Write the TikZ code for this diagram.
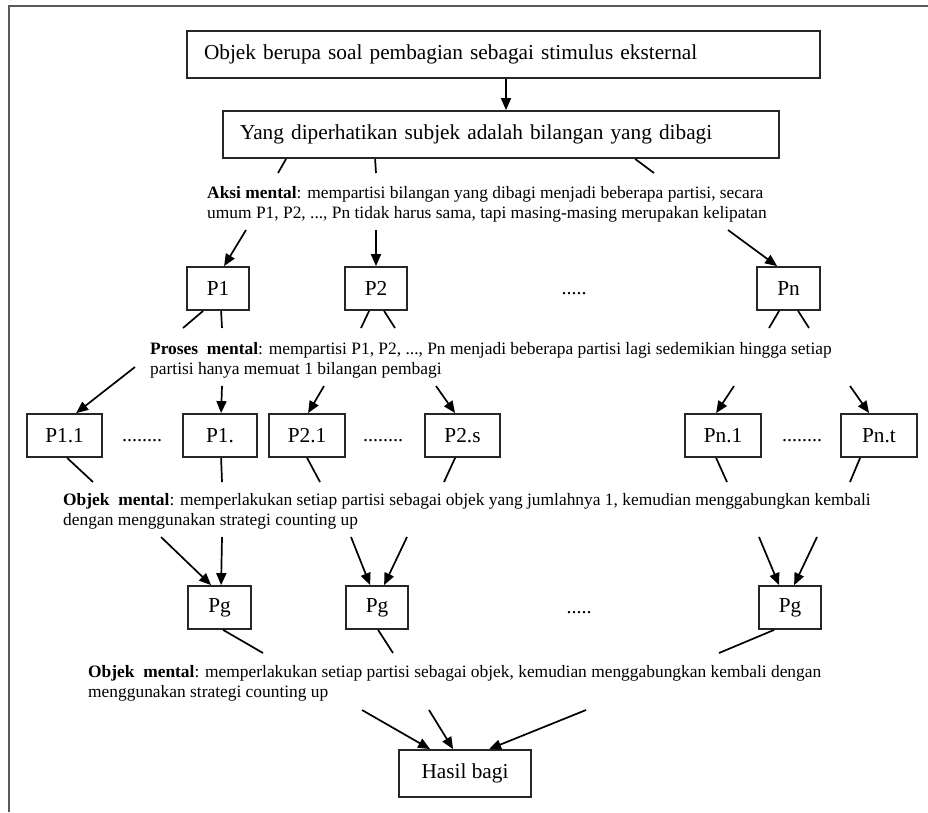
\documentclass[tikz,border=0pt]{standalone}
\usepackage{fontspec}
\setmainfont{Liberation Serif}
\usetikzlibrary{arrows.meta}
\begin{document}
\begin{tikzpicture}[x=1pt,y=-1pt,
  box/.style={draw=black!85, line width=1.8pt, inner sep=0pt, font=\fontsize{21.3}{24}\selectfont},
  bigbox/.style={box, minimum height=47pt, inner xsep=17pt, align=left},
  pbox/.style={box, minimum height=43pt},
  conn/.style={line width=1.7pt},
  arr/.style={conn, -{Triangle[length=12pt,width=10pt]}},
  note/.style={anchor=north west, align=left, inner sep=0pt, font=\fontsize{17.4}{20.5}\selectfont},
  dotsnode/.style={inner sep=0pt, font=\fontsize{20}{22}\selectfont}
]
\useasboundingbox (0,0) rectangle (928,812);
\draw[line width=2.5pt, black!65] (928,6) -- (9,6) -- (9,812);

% top boxes
\node[bigbox, text width=599pt] (b1) at (503.5,54.5) {Objek berupa soal pembagian sebagai stimulus eksternal};
\node[bigbox, text width=522pt] (b2) at (501,134.5) {Yang diperhatikan subjek adalah bilangan yang dibagi};
\draw[arr] ([xshift=2.5pt]b1.south) -- ([xshift=2.5pt]b1.south |- b2.north);

% Aksi mental
\node[note] (t1) at (207,186) {\textbf{Aksi mental}: mempartisi bilangan yang dibagi menjadi beberapa partisi, secara\\umum P1, P2, ..., Pn tidak harus sama, tapi masing-masing merupakan kelipatan};
\coordinate (a1) at (278,173);
\coordinate (a2) at (376,173);
\coordinate (a3) at (654,173);
\draw[conn] ([xshift=64pt]b2.south west) -- (a1);
\draw[conn] ([xshift=153pt]b2.south west) -- (a2);
\draw[conn] ([xshift=413pt]b2.south west) -- (a3);

% level 1
\node[pbox, minimum width=62pt] (p1) at (218,288.5) {P1};
\node[pbox, minimum width=62pt] (p2) at (376,288.5) {P2};
\node[pbox, minimum width=63pt] (pn) at (788.5,288.5) {Pn};
\node[dotsnode] (d1) at (574,294) {.....};
\coordinate (s1) at (246,230);
\coordinate (s2) at (376,230);
\coordinate (s3) at (728,230);
\draw[arr] (s1) -- ([xshift=38pt]p1.north west);
\draw[arr] (s2) -- (p2.north);
\draw[arr] (s3) -- ([xshift=21pt]pn.north west);

% below level 1
\coordinate (e1) at (183,328);
\coordinate (e2) at (222,328);
\coordinate (e3) at (361,328);
\coordinate (e4) at (395,328);
\coordinate (e5) at (769,328);
\coordinate (e6) at (809,328);
\draw[conn] ([xshift=17pt]p1.south west) -- (e1);
\draw[conn] ([xshift=35pt]p1.south west) -- (e2);
\draw[conn] ([xshift=25pt]p2.south west) -- (e3);
\draw[conn] ([xshift=40pt]p2.south west) -- (e4);
\draw[conn] ([xshift=23pt]pn.south west) -- (e5);
\draw[conn] ([xshift=42pt]pn.south west) -- (e6);

% Proses mental
\node[note] (t2) at (150,342) {\textbf{Proses\ \ mental}: mempartisi P1, P2, ..., Pn menjadi beberapa partisi lagi sedemikian hingga setiap\\partisi hanya memuat 1 bilangan pembagi};

% level 2
\node[pbox, minimum width=75pt] (q11) at (64.5,435.5) {P1.1};
\node[dotsnode] (d2) at (142,441) {........};
\node[pbox, minimum width=74pt] (q1d) at (220,435.5) {P1.};
\node[pbox, minimum width=76pt] (q21) at (307,435.5) {P2.1};
\node[dotsnode] (d3) at (383,441) {........};
\node[pbox, minimum width=75pt] (q2s) at (462.5,435.5) {P2.s};
\node[pbox, minimum width=76pt] (qn1) at (723,435.5) {Pn.1};
\node[dotsnode] (d4) at (802,441) {........};
\node[pbox, minimum width=76pt] (qnt) at (879,435.5) {Pn.t};
\coordinate (f1) at (135,367);
\coordinate (f2) at (222,386);
\coordinate (f3) at (324,386);
\coordinate (f4) at (436,386);
\coordinate (f5) at (734,386);
\coordinate (f6) at (850,386);
\draw[arr] (f1) -- ([xshift=50pt]q11.north west);
\draw[arr] (f2) -- ([xshift=39pt]q1d.north west);
\draw[arr] (f3) -- ([xshift=40pt]q21.north west);
\draw[arr] (f4) -- ([xshift=31pt]q2s.north west);
\draw[arr] (f5) -- ([xshift=32pt]qn1.north west);
\draw[arr] (f6) -- ([xshift=29pt]qnt.north west);

% below level 2
\coordinate (g1) at (93,482);
\coordinate (g2) at (222,482);
\coordinate (g3) at (320,482);
\coordinate (g4) at (444,482);
\coordinate (g5) at (727,482);
\coordinate (g6) at (850,482);
\draw[conn] ([xshift=41pt]q11.south west) -- (g1);
\draw[conn] ([xshift=39pt]q1d.south west) -- (g2);
\draw[conn] ([xshift=39pt]q21.south west) -- (g3);
\draw[conn] ([xshift=31pt]q2s.south west) -- (g4);
\draw[conn] ([xshift=32pt]qn1.south west) -- (g5);
\draw[conn] ([xshift=20pt]qnt.south west) -- (g6);

% Objek mental 1
\node[note] (t3) at (63,493) {\textbf{Objek\ \ mental}: memperlakukan setiap partisi sebagai objek yang jumlahnya 1, kemudian menggabungkan kembali\\dengan menggunakan strategi counting up};

% level 3
\node[pbox, minimum width=63pt] (r1) at (219.5,607.5) {Pg};
\node[pbox, minimum width=62pt] (r2) at (377,607.5) {Pg};
\node[dotsnode] (d5) at (579,613) {.....};
\node[pbox, minimum width=62pt] (r3) at (790,607.5) {Pg};
\coordinate (h1) at (161,537);
\coordinate (h2) at (222,537);
\coordinate (h3) at (351,537);
\coordinate (h4) at (407,537);
\coordinate (h5) at (759,537);
\coordinate (h6) at (817,537);
\draw[arr] (h1) -- ([xshift=24pt]r1.north west);
\draw[arr] (h2) -- ([xshift=34pt]r1.north west);
\draw[arr] (h3) -- ([xshift=25pt]r2.north west);
\draw[arr] (h4) -- ([xshift=39pt]r2.north west);
\draw[arr] (h5) -- ([xshift=21pt]r3.north west);
\draw[arr] (h6) -- ([xshift=36pt]r3.north west);

% below level 3
\coordinate (k1) at (263,653);
\coordinate (k2) at (393,653);
\coordinate (k3) at (719,653);
\draw[conn] ([xshift=36pt]r1.south west) -- (k1);
\draw[conn] ([xshift=33pt]r2.south west) -- (k2);
\draw[conn] ([xshift=16pt]r3.south west) -- (k3);

% Objek mental 2
\node[note] (t4) at (88,665) {\textbf{Objek\ \ mental}: memperlakukan setiap partisi sebagai objek, kemudian menggabungkan kembali dengan\\menggunakan strategi counting up};

% result
\node[box, minimum width=132pt, minimum height=47pt] (hb) at (465,773.5) {Hasil bagi};
\coordinate (m1) at (362,710);
\coordinate (m2) at (429,710);
\coordinate (m3) at (586,710);
\draw[arr] (m1) -- ([xshift=32pt]hb.north west);
\draw[arr] (m2) -- ([xshift=55pt]hb.north west);
\draw[arr] (m3) -- ([xshift=91pt]hb.north west);
\end{tikzpicture}
\end{document}
